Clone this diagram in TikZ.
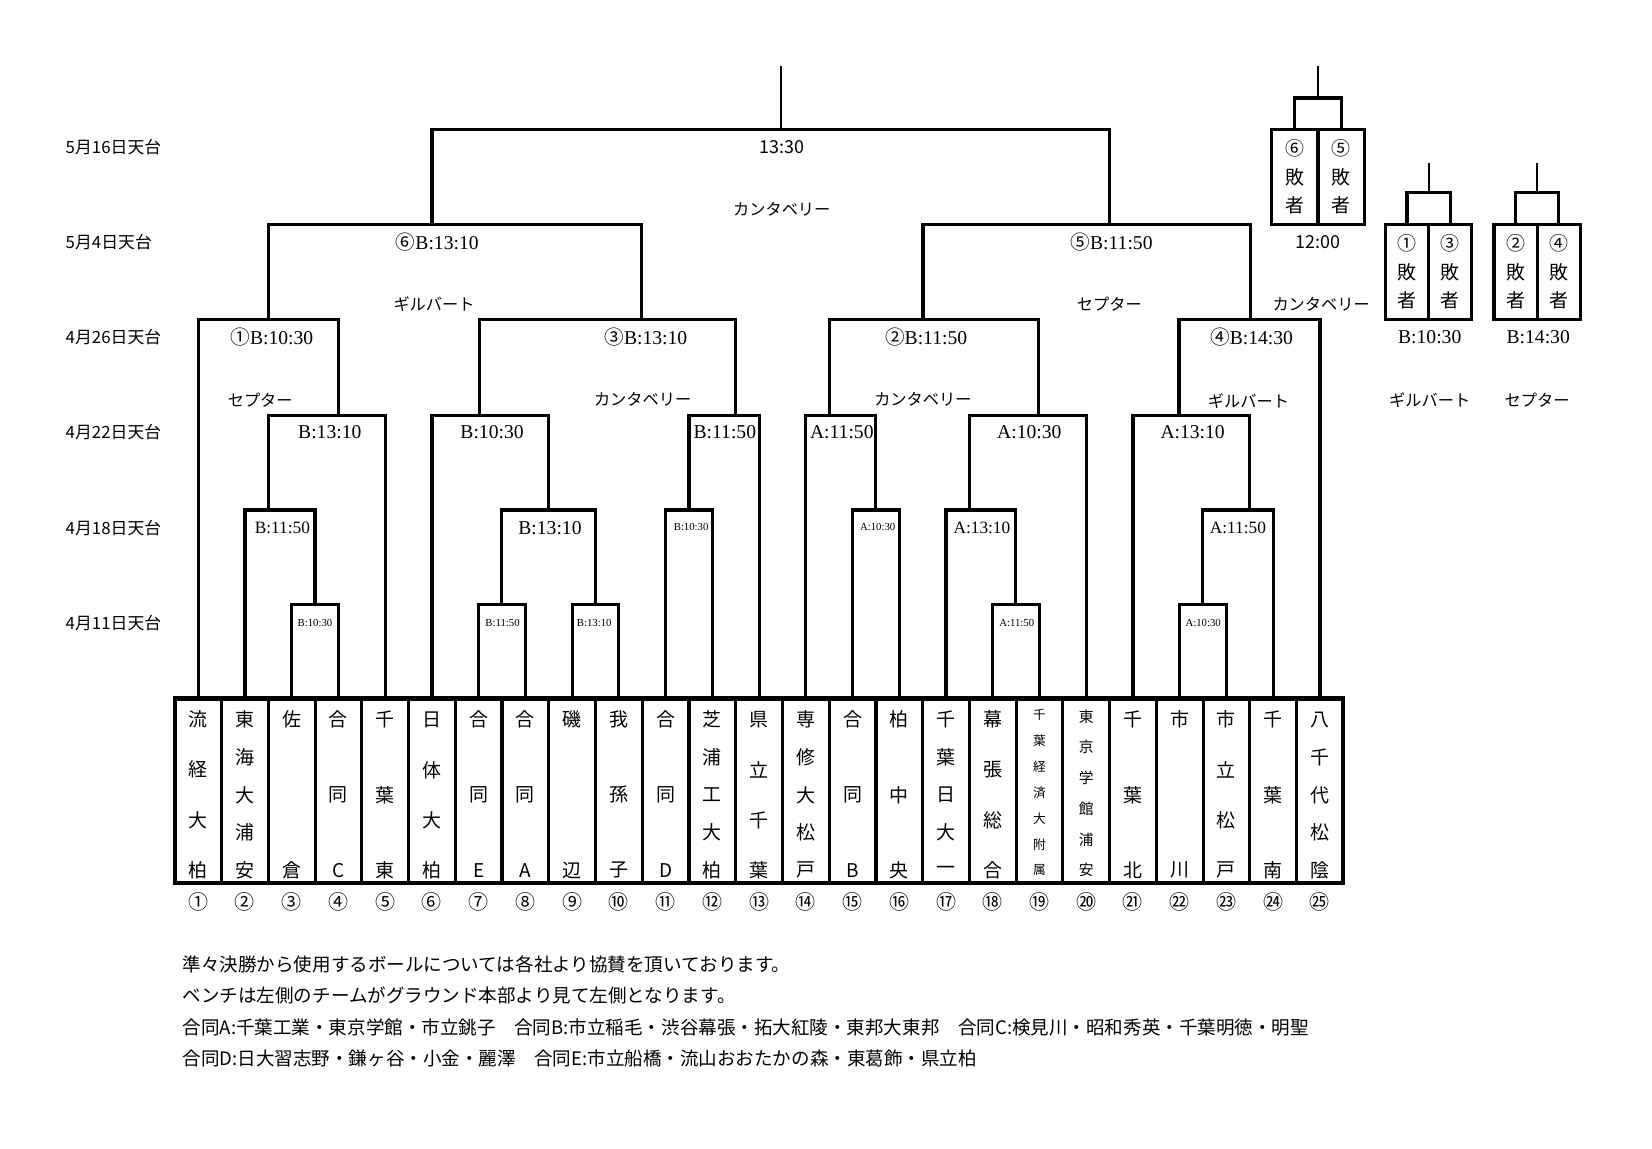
\documentclass[tikz,border=0pt]{standalone}
\usepackage{fontspec}
\setmainfont{Liberation Serif}
\newfontfamily\jp{Noto Sans CJK JP}
\newcommand\fsz[1]{\fontsize{#1}{#1}\selectfont}

\begin{document}
\begin{tikzpicture}[x=0.5pt,y=-0.5pt,
    br/.style={line width=1.5pt},
    stem/.style={line width=1.1pt},
    tbox/.style={draw,line width=1.5pt,minimum width=22.18pt,minimum height=87.5pt,inner sep=0pt,outer sep=0pt},
    cbox/.style={draw,line width=1.5pt,minimum height=45pt,inner sep=0pt,outer sep=0pt,align=center,font=\jp\fontsize{9}{13.5}\selectfont},
    big/.style={font=\fsz{9.3},inner sep=0pt},
    mid/.style={font=\fsz{8.2},inner sep=0pt},
    sml/.style={font=\fsz{5.1},inner sep=0pt},
    ball/.style={font=\jp\fsz{7.7},inner sep=0pt},
    day/.style={font=\jp\fsz{8},anchor=west,inner sep=0pt},
    hms/.style={font=\jp\fsz{8.5},inner sep=0pt}]

    \path[fill=white] (0,0) rectangle (1568,1090);

    \node[day] (day1) at (62,140) {5月16日天台};
    \node[day] (day2) at (62,230) {5月4日天台};
    \node[day] (day3) at (62,320) {4月26日天台};
    \node[day] (day4) at (62,410) {4月22日天台};
    \node[day] (day5) at (62,501) {4月18日天台};
    \node[day] (day6) at (62,591) {4月11日天台};

    \foreach \i/\nc/\tn/\fs/\cn in {
        1/4/{流,経,大,柏}/9/①, 2/5/{東,海,大,浦,安}/9/②, 3/2/{佐,倉}/9/③,
        4/3/{合,同,C}/9/④, 5/3/{千,葉,東}/9/⑤, 6/4/{日,体,大,柏}/9/⑥,
        7/3/{合,同,E}/9/⑦, 8/3/{合,同,A}/9/⑧, 9/2/{磯,辺}/9/⑨,
        10/3/{我,孫,子}/9/⑩, 11/3/{合,同,D}/9/⑪, 12/5/{芝,浦,工,大,柏}/9/⑫,
        13/4/{県,立,千,葉}/9/⑬, 14/5/{専,修,大,松,戸}/9/⑭, 15/3/{合,同,B}/9/⑮,
        16/3/{柏,中,央}/9/⑯, 17/5/{千,葉,日,大,一}/9/⑰, 18/4/{幕,張,総,合}/9/⑱,
        19/7/{千,葉,経,済,大,附,属}/6/⑲, 20/6/{東,京,学,館,浦,安}/7/⑳,
        21/3/{千,葉,北}/9/㉑, 22/2/{市,川}/9/㉒, 23/4/{市,立,松,戸}/9/㉓,
        24/3/{千,葉,南}/9/㉔, 25/5/{八,千,代,松,陰}/9/㉕}
    {
        \pgfmathsetmacro\tx{143.82+44.36*\i}
        \node[tbox] (t\i) at (\tx,750.5) {};
        \foreach \ch [count=\k] in \tn {
            \pgfmathsetmacro\ty{683-(9-\fs)*1.5+(143+(9-\fs)*1.5)*(\k-1)/(\nc-1)}
            \node[font=\jp\fsz{\fs},inner sep=0pt] (ch\i-\k) at (\tx,\ty) {\ch};
        }
        \node[font=\jp\fsz{9.5},inner sep=0pt] (num\i) at (\tx,856) {\cn};
    }
    \draw[line width=2pt] (t1.north west) rectangle (t25.south east);

    \coordinate (a1) at (299,574);
    \coordinate (a2) at (476,574);
    \coordinate (a3) at (565,574);
    \coordinate (a4) at (964,574);
    \coordinate (a5) at (1141,574);
    \coordinate (b1) at (255,484);
    \coordinate (b2) at (521,484);
    \coordinate (b3) at (654,484);
    \coordinate (b4) at (831,484);
    \coordinate (b5) at (920,484);
    \coordinate (b6) at (1186,484);
    \coordinate (c1) at (321,394);
    \coordinate (c2) at (455,394);
    \coordinate (c3) at (698,394);
    \coordinate (c4) at (787,394);
    \coordinate (c5) at (986,394);
    \coordinate (c6) at (1119,394);
    \coordinate (d1) at (255,303);
    \coordinate (d2) at (609,303);
    \coordinate (d3) at (876,303);
    \coordinate (d4) at (1187,303);
    \coordinate (e1) at (410,213);
    \coordinate (e2) at (1053,213);
    \coordinate (f1) at (741,123);
    \coordinate (top) at (741,63);

    \draw[br] (t3.north) |- (a1) -| (t4.north);
    \draw[br] (t7.north) |- (a2) -| (t8.north);
    \draw[br] (t9.north) |- (a3) -| (t10.north);
    \draw[br] (t18.north) |- (a4) -| (t19.north);
    \draw[br] (t22.north) |- (a5) -| (t23.north);
    \draw[br] (t2.north) |- (b1) -| (a1);
    \draw[br] (a2) |- (b2) -| (a3);
    \draw[br] (t11.north) |- (b3) -| (t12.north);
    \draw[br] (t15.north) |- (b4) -| (t16.north);
    \draw[br] (t17.north) |- (b5) -| (a4);
    \draw[br] (a5) |- (b6) -| (t24.north);
    \draw[br] (b1) |- (c1) -| (t5.north);
    \draw[br] (t6.north) |- (c2) -| (b2);
    \draw[br] (b3) |- (c3) -| (t13.north);
    \draw[br] (t14.north) |- (c4) -| (b4);
    \draw[br] (b5) |- (c5) -| (t20.north);
    \draw[br] (t21.north) |- (c6) -| (b6);
    \draw[br] (t1.north) |- (d1) -| (c1);
    \draw[br] (c2) |- (d2) -| (c3);
    \draw[br] (c4) |- (d3) -| (c5);
    \draw[br] (c6) |- (d4) -| (t25.north);
    \draw[br] (d1) |- (e1) -| (d2);
    \draw[br] (d3) |- (e2) -| (d4);
    \draw[br] (e1) |- (f1) -| (e2);
    \draw[stem] (f1) -- (top);

    \node[sml] (la1) at (299,591) {B:10:30};
    \node[sml] (la2) at (477,591) {B:11:50};
    \node[sml] (la3) at (564,591) {B:13:10};
    \node[sml] (la4) at (965,591) {A:11:50};
    \node[sml] (la5) at (1142,591) {A:10:30};
    \node[mid] (lb1) at (268,501) {B:11:50};
    \node[big] (lb2) at (522,501) {B:13:10};
    \node[sml] (lb3) at (656,500) {B:10:30};
    \node[sml] (lb4) at (833,500) {A:10:30};
    \node[mid] (lb5) at (932,501) {A:13:10};
    \node[mid] (lb6) at (1175,501) {A:11:50};
    \node[big] (lc1) at (313,410) {B:13:10};
    \node[big] (lc2) at (467,410) {B:10:30};
    \node[big] (lc3) at (688,410) {B:11:50};
    \node[big] (lc4) at (799,410) {A:11:50};
    \node[big] (lc5) at (977,410) {A:10:30};
    \node[big] (lc6) at (1132,410) {A:13:10};
    \node[big] (ld1) at (258,320) {{\jp ①}B:10:30};
    \node[big] (ld2) at (613,320) {{\jp ③}B:13:10};
    \node[big] (ld3) at (879,320) {{\jp ②}B:11:50};
    \node[big] (ld4) at (1188,320) {{\jp ④}B:14:30};
    \node[ball] (bd1) at (247,380) {セプター};
    \node[ball] (bd2) at (610,379) {カンタベリー};
    \node[ball] (bd3) at (876,379) {カンタベリー};
    \node[ball] (bd4) at (1185,381) {ギルバート};
    \node[big] (le1) at (415,230) {{\jp ⑥}B:13:10};
    \node[big] (le2) at (1055,230) {{\jp ⑤}B:11:50};
    \node[ball] (be1) at (412,289) {ギルバート};
    \node[ball] (be2) at (1053,289) {セプター};
    \node[hms] (lf1) at (742,140) {13:30};
    \node[ball] (bf1) at (742,199) {カンタベリー};

    \node[cbox,minimum width=22pt] (k1) at (1229,168) {⑥\\敗\\者};
    \node[cbox,minimum width=22pt] (k2) at (1273,168) {⑤\\敗\\者};
    \coordinate (g1) at (1251,93);
    \coordinate (h1) at (1251,63);
    \draw[br] (k1.north) |- (g1) -| (k2.north);
    \draw[stem] (g1) -- (h1);
    \node[hms] (lk1) at (1251,230) {12:00};
    \node[ball] (bk1) at (1254,289) {カンタベリー};

    \node[cbox,minimum width=20.5pt] (k3) at (1335.5,258) {①\\敗\\者};
    \node[cbox,minimum width=20.5pt] (k4) at (1376.5,258) {③\\敗\\者};
    \coordinate (g2) at (1356,183);
    \coordinate (h2) at (1356,155);
    \draw[br] (k3.north) |- (g2) -| (k4.north);
    \draw[stem] (g2) -- (h2);
    \node[big] (lk2) at (1357,320) {B:10:30};
    \node[ball] (bk2) at (1357,380) {ギルバート};

    \node[cbox,minimum width=20.5pt] (k5) at (1438.5,258) {②\\敗\\者};
    \node[cbox,minimum width=20.5pt] (k6) at (1479.5,258) {④\\敗\\者};
    \coordinate (g3) at (1459,183);
    \coordinate (h3) at (1459,155);
    \draw[br] (k5.north) |- (g3) -| (k6.north);
    \draw[stem] (g3) -- (h3);
    \node[big] (lk3) at (1460,320) {B:14:30};
    \node[ball] (bk3) at (1459,380) {セプター};

    \node[anchor=west,inner sep=0pt,align=left,font=\jp\fontsize{8.8}{15}\selectfont] (note) at (173,960)
        {準々決勝から使用するボールについては各社より協賛を頂いております。\\
         ベンチは左側のチームがグラウンド本部より見て左側となります。\\
         合同A:千葉工業・東京学館・市立銚子　合同B:市立稲毛・渋谷幕張・拓大紅陵・東邦大東邦　合同C:検見川・昭和秀英・千葉明徳・明聖\\
         合同D:日大習志野・鎌ヶ谷・小金・麗澤　合同E:市立船橋・流山おおたかの森・東葛飾・県立柏};
\end{tikzpicture}
\end{document}
